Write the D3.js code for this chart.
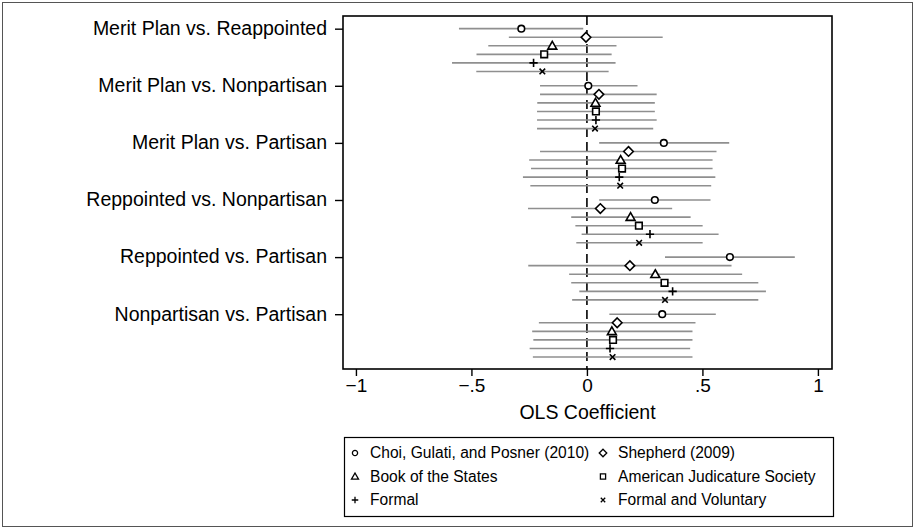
<!DOCTYPE html>
<html><head><meta charset="utf-8">
<script src="https://cdn.jsdelivr.net/npm/d3@7"></script>
<style>body{margin:0;background:#fff}svg{display:block}text{font-family:"Liberation Sans",Arial,sans-serif;fill:#000}</style>
</head><body>
<svg id="c" width="915" height="531"></svg>
<script>
const categories = ["Merit Plan vs. Reappointed","Merit Plan vs. Nonpartisan","Merit Plan vs. Partisan","Reppointed vs. Nonpartisan","Reppointed vs. Partisan","Nonpartisan vs. Partisan"];
const seriesNames = ["Choi, Gulati, and Posner (2010)","Shepherd (2009)","Book of the States","American Judicature Society","Formal","Formal and Voluntary"];
const seriesSymbols = ["circle","diamond","triangle","square","plus","cross"];
const xTicks = [-1,-0.5,0,0.5,1];
const xTickLabels = ["\u22121","\u2212.5","0",".5","1"];
const xTitle = "OLS Coefficient";

const choiCoef = [-0.284,0.006,0.333,0.294,0.619,0.326];
const choiLo   = [-0.554,-0.203,0.053,0.053,0.338,0.097];
const choiHi   = [-0.016,0.219,0.616,0.535,0.900,0.558];
const shepCoef = [-0.004,0.052,0.180,0.058,0.186,0.131];
const shepLo   = [-0.338,-0.203,-0.203,-0.255,-0.254,-0.208];
const shepHi   = [0.328,0.302,0.561,0.369,0.626,0.470];
const bookCoef = [-0.150,0.037,0.146,0.189,0.296,0.108];
const bookLo   = [-0.427,-0.215,-0.250,-0.068,-0.077,-0.237];
const bookHi   = [0.128,0.294,0.544,0.449,0.672,0.457];
const ajsCoef  = [-0.185,0.039,0.152,0.225,0.336,0.113];
const ajsLo    = [-0.478,-0.216,-0.242,-0.050,-0.068,-0.232];
const ajsHi    = [0.107,0.294,0.544,0.501,0.742,0.457];
const formCoef = [-0.231,0.039,0.140,0.273,0.371,0.100];
const formLo   = [-0.584,-0.216,-0.277,-0.023,-0.033,-0.248];
const formHi   = [0.124,0.302,0.556,0.570,0.775,0.447];
const fvCoef   = [-0.193,0.035,0.144,0.226,0.338,0.111];
const fvLo     = [-0.479,-0.216,-0.245,-0.046,-0.064,-0.234];
const fvHi     = [0.094,0.287,0.538,0.501,0.742,0.457];

const coefs = [choiCoef,shepCoef,bookCoef,ajsCoef,formCoef,fvCoef];
const los = [choiLo,shepLo,bookLo,ajsLo,formLo,fvLo];
const his = [choiHi,shepHi,bookHi,ajsHi,formHi,fvHi];

const data = [];
categories.forEach((c,g)=>seriesNames.forEach((s,j)=>{
  data.push({g,j,pos:g*6.67+j,coef:coefs[j][g],lo:los[j][g],hi:his[j][g],sym:seriesSymbols[j]});
}));

const svg = d3.select("#c");
const L=343,R=832,T=16,B=369;
const x = d3.scaleLinear().domain([-1.056,1.061]).range([L,R]);
const y = d3.scaleLinear().domain([-1.48,39.75]).range([T,B]);

svg.append("rect").attr("x",2.5).attr("y",2.5).attr("width",910).attr("height",524)
  .attr("fill","none").attr("stroke","#555").attr("stroke-width",1);

function shape(sel, sym, s){
  if(sym==="circle") return sel.append("circle").attr("r",s).attr("fill","#fff").attr("stroke","#000").attr("stroke-width",1.6);
  let d;
  if(sym==="diamond") d=`M0,${-s*1.45}L${s*1.45},0L0,${s*1.45}L${-s*1.45},0Z`;
  if(sym==="triangle") d=`M0,${-s*1.35}L${s*1.35},${s*1.0}L${-s*1.35},${s*1.0}Z`;
  if(sym==="square") d=`M${-s},${-s}H${s}V${s}H${-s}Z`;
  if(sym==="plus") d=`M${-s*1.25},0H${s*1.25}M0,${-s*1.25}V${s*1.25}`;
  if(sym==="cross") d=`M${-s*0.85},${-s*0.85}L${s*0.85},${s*0.85}M${s*0.85},${-s*0.85}L${-s*0.85},${s*0.85}`;
  return sel.append("path").attr("d",d).attr("fill",(sym==="plus"||sym==="cross")?"none":"#fff").attr("stroke","#000").attr("stroke-width",1.6);
}

// zero line
svg.append("line").attr("x1",x(0)).attr("x2",x(0)).attr("y1",T).attr("y2",B)
  .attr("stroke","#000").attr("stroke-width",1.6).attr("stroke-dasharray","9,5");

// CI lines
svg.append("g").selectAll("line").data(data).join("line")
  .attr("x1",d=>x(d.lo)).attr("x2",d=>x(d.hi)).attr("y1",d=>y(d.pos)).attr("y2",d=>y(d.pos))
  .attr("stroke","#8f8f8f").attr("stroke-width",1.6);

// markers
const mg = svg.append("g");
data.forEach(d=>{
  const g = mg.append("g").attr("transform",`translate(${x(d.coef)},${y(d.pos)})`);
  shape(g,d.sym,3.3);
});

// frame
svg.append("rect").attr("x",L).attr("y",T).attr("width",R-L).attr("height",B-T)
  .attr("fill","none").attr("stroke","#000").attr("stroke-width",1.6);

// x axis
const xa = svg.append("g").attr("transform",`translate(0,${B})`)
  .call(d3.axisBottom(x).tickValues(xTicks).tickFormat((d,i)=>xTickLabels[i]).tickSize(7).tickPadding(3));
xa.select(".domain").remove();
xa.selectAll("line").attr("stroke","#000").attr("stroke-width",1.4);
xa.selectAll("text").attr("font-size","19px").style("font-family","'Liberation Sans',Arial,sans-serif");

// y axis
const yTickPos = categories.map((c,g)=>g*6.67);
const ya = svg.append("g").attr("transform",`translate(${L},0)`)
  .call(d3.axisLeft(y).tickValues(yTickPos).tickFormat((d,i)=>categories[i]).tickSize(8).tickPadding(8));
ya.select(".domain").remove();
ya.selectAll("line").attr("stroke","#000").attr("stroke-width",1.4);
ya.selectAll("text").attr("font-size","19.5px").attr("dy","0.3em").style("font-family","'Liberation Sans',Arial,sans-serif");

svg.append("text").attr("x",(L+R)/2).attr("y",419).attr("text-anchor","middle")
  .attr("font-size","19.5px").text(xTitle);

// legend
const lg = svg.append("g");
lg.append("rect").attr("x",344.5).attr("y",437.5).attr("width",489).attr("height",79)
  .attr("fill","#fff").attr("stroke","#000").attr("stroke-width",1.2);
const colX = [355,603];
const rowY = [453,476.5,500];
seriesNames.forEach((s,i)=>{
  const cx = colX[i%2], cy = rowY[Math.floor(i/2)];
  const g = lg.append("g").attr("transform",`translate(${cx},${cy})`);
  shape(g,seriesSymbols[i],2.6).attr("stroke-width",1.3);
  lg.append("text").attr("x",cx+15).attr("y",cy).attr("dy","0.35em").attr("font-size","15.6px").text(s);
});
</script>
</body></html>
